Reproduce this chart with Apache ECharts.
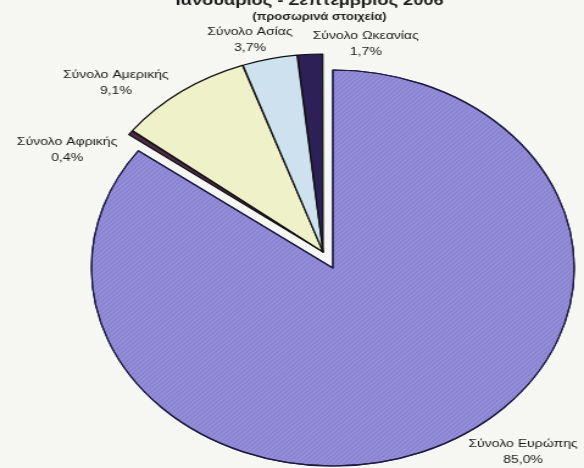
<!DOCTYPE html>
<html>
<head>
<meta charset="utf-8">
<script src="https://cdn.jsdelivr.net/npm/echarts@6/dist/echarts.min.js"></script>
<style>
  html, body { margin: 0; padding: 0; background: #f6f6f3; overflow: hidden; }
  #wrap { width: 584px; height: 468px; overflow: hidden; position: relative; }
  /* the chart is laid out narrow and widened horizontally, giving the oval pie */
  #chart { width: 479px; height: 468px; transform: scaleX(1.2192); transform-origin: 0 0; }
</style>
</head>
<body>
<div id="wrap"><div id="chart"></div></div>
<script>
// Arrivals by continent of origin, Jan-Sep (provisional figures), % of total
const regions = ['Σύνολο Ευρώπης', 'Σύνολο Αφρικής', 'Σύνολο Αμερικής', 'Σύνολο Ασίας', 'Σύνολο Ωκεανίας'];
const shares  = [85.0, 0.4, 9.1, 3.7, 1.7];
const titleText = 'Ιανουάριος - Σεπτέμβριος 2006';
const subtitleText = '(προσωρινά στοιχεία)';

// layout and style (kept apart from the data)
const colors = ['#8a83d1', '#4e2a48', '#eff1c9', '#cde2ee', '#2c2057'];
const borders = ['#1d1a42', '#111', '#111', '#111', '#111'];
const FONT = '"Liberation Sans", Arial, sans-serif';
const CX = 273, CY = 268, R = 198;          // pie centre / radius (chart units)
const SHIFT = [-8, -16];                    // pulled-out group of small slices
const labelAt = [[429, 452], [55, 150], [95, 83], [205, 40], [300, 44]];

const pct = v => v.toFixed(1).replace('.', ',') + '%';

function buildData(shown) {
  return regions.map((name, i) => {
    const on = shown(i);
    let style;
    if (on) {
      style = { color: colors[i], borderColor: borders[i], borderWidth: 1.2 };
      if (i === 0) {
        style.decal = {
          symbol: 'rect', symbolSize: 1, color: 'rgba(210,210,255,0.22)',
          dashArrayX: [1, 0], dashArrayY: [1, 2], rotation: -Math.PI / 4
        };
      }
    } else {
      style = { color: 'rgba(0,0,0,0)', borderWidth: 0 };
    }
    return { name: name, value: shares[i], itemStyle: style, label: { show: on } };
  });
}

const labelStyle = {
  position: 'inside',
  overflow: 'none',
  formatter: p => p.name + '\n' + pct(p.value),
  fontFamily: FONT, fontSize: 11.5, color: '#1a1a1a', lineHeight: 16, align: 'center'
};
const layout = p => ({ x: labelAt[p.dataIndex][0], y: labelAt[p.dataIndex][1], align: 'center', verticalAlign: 'middle' });

const chart = echarts.init(document.getElementById('chart'), null, { renderer: 'canvas' });
chart.setOption({
  backgroundColor: '#f6f6f3',
  animation: false,
  graphic: [
    { type: 'text', x: 254, y: 8,
      style: { text: titleText, textAlign: 'center', textVerticalAlign: 'bottom',
               font: 'bold 15px ' + FONT, fill: '#1e1e1e' } },
    { type: 'text', x: 262, y: 17,
      style: { text: subtitleText, textAlign: 'center', textVerticalAlign: 'middle',
               font: 'bold 10.5px ' + FONT, fill: '#1e1e1e' } }
  ],
  series: [
    {
      type: 'pie', center: [CX, CY], radius: R, startAngle: 90, clockwise: true,
      silent: true, label: labelStyle, labelLine: { show: false }, labelLayout: layout,
      data: buildData(i => i === 0)
    },
    {
      type: 'pie', center: [CX + SHIFT[0], CY + SHIFT[1]], radius: R, startAngle: 90, clockwise: true,
      padAngle: 0.15, silent: true, label: labelStyle, labelLine: { show: false }, labelLayout: layout,
      data: buildData(i => i !== 0)
    }
  ]
});
</script>
</body>
</html>
